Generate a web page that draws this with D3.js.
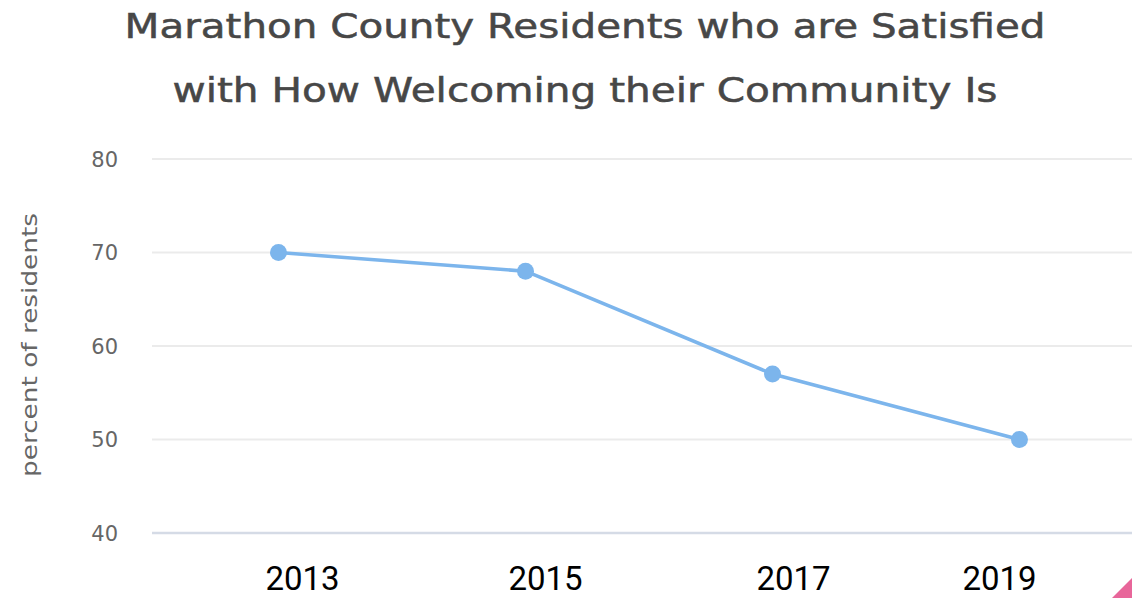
<!DOCTYPE html>
<html>
<head>
<meta charset="utf-8">
<script src="https://cdn.jsdelivr.net/npm/d3@7"></script>
<style>
  html, body { margin: 0; padding: 0; background: #ffffff; }
  svg { display: block; }
</style>
</head>
<body>
<svg id="chart" width="1132" height="598"></svg>
<script>
// Survey years and share of residents satisfied (%)
const years = ["2013", "2015", "2017", "2019"];
const satisfied = [70, 68, 57, 50];
const yTicks = [40, 50, 60, 70, 80];
const titleLines = [
  "Marathon County Residents who are Satisfied",
  "with How Welcoming their Community Is"
];
const yAxisTitle = "percent of residents";

// Layout: title line widths, and year labels nudged from the point centres
const titleWidths = [921, 825];
const yearLabelShift = [24, 20, 21, -20];

const W = 1132, H = 598;
const plot = { left: 155, right: 1143, top: 159, bottom: 533 };
const sans = "'DejaVu Sans', Verdana, sans-serif";

const svg = d3.select("#chart");

const x = d3.scalePoint()
  .domain(years)
  .range([plot.left, plot.right])
  .padding(0.5);

const y = d3.scaleLinear()
  .domain([40, 80])
  .range([plot.bottom, plot.top]);

// Title
svg.append("g")
  .selectAll("text")
  .data(titleLines)
  .join("text")
  .attr("x", 585)
  .attr("y", (d, i) => 38 + i * 64)
  .attr("text-anchor", "middle")
  .attr("font-family", sans)
  .attr("font-size", 33)
  .attr("fill", "#474747")
  .attr("stroke", "#474747")
  .attr("stroke-width", 0.5)
  .attr("textLength", (d, i) => titleWidths[i])
  .attr("lengthAdjust", "spacingAndGlyphs")
  .text(d => d);

// Horizontal gridlines
svg.append("g")
  .selectAll("line")
  .data(yTicks)
  .join("line")
  .attr("x1", plot.left - 3)
  .attr("x2", W)
  .attr("y1", d => y(d))
  .attr("y2", d => y(d))
  .attr("stroke", d => d === 40 ? "#d5dbe6" : "#ebebeb")
  .attr("stroke-width", d => d === 40 ? 2.5 : 2);

// Y tick labels
svg.append("g")
  .selectAll("text")
  .data(yTicks)
  .join("text")
  .attr("x", 118)
  .attr("y", d => y(d))
  .attr("dy", "0.36em")
  .attr("text-anchor", "end")
  .attr("font-family", sans)
  .attr("font-size", 21)
  .attr("fill", "#666666")
  .text(d => d);

// Y axis title
svg.append("text")
  .attr("transform", `translate(${37},${345}) rotate(-90)`)
  .attr("text-anchor", "middle")
  .attr("font-family", sans)
  .attr("font-size", 22)
  .attr("fill", "#666666")
  .attr("textLength", 264)
  .attr("lengthAdjust", "spacingAndGlyphs")
  .text(yAxisTitle);

// Series line
const line = d3.line()
  .x((d, i) => x(years[i]))
  .y(d => y(d));

svg.append("path")
  .datum(satisfied)
  .attr("d", line)
  .attr("fill", "none")
  .attr("stroke", "#7cb5ec")
  .attr("stroke-width", 3.5)
  .attr("stroke-linejoin", "round");

// Markers
svg.append("g")
  .selectAll("circle")
  .data(satisfied)
  .join("circle")
  .attr("cx", (d, i) => x(years[i]))
  .attr("cy", d => y(d))
  .attr("r", 8.5)
  .attr("fill", "#7cb5ec");

// Year labels
svg.append("g")
  .selectAll("text")
  .data(years)
  .join("text")
  .attr("x", (d, i) => x(d) + yearLabelShift[i])
  .attr("y", 590)
  .attr("text-anchor", "middle")
  .attr("font-family", "Roboto, sans-serif")
  .attr("font-size", 33)
  .attr("fill", "#000000")
  .text(d => d);

// Corner accent
svg.append("path")
  .attr("d", `M${W},${H - 20} L${W},${H} L${W - 20},${H} Z`)
  .attr("fill", "#e8669a");
</script>
</body>
</html>
